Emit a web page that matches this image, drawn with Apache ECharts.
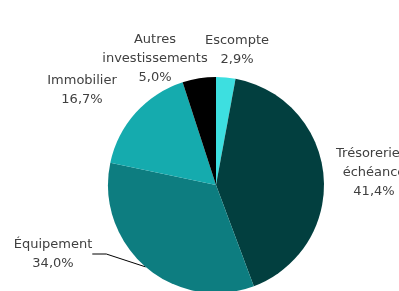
<!DOCTYPE html>
<html>
<head>
<meta charset="utf-8">
<script src="https://cdn.jsdelivr.net/npm/echarts@6/dist/echarts.min.js"></script>
<style>
  html, body { margin: 0; padding: 0; background: #fff; }
  #chart { width: 399px; height: 291px; }
</style>
</head>
<body>
<div id="chart"></div>
<script>
// données (en % du total)
const categories = ['Escompte', 'Trésorerie à\néchéance', 'Équipement', 'Immobilier', 'Autres\ninvestissements']
const values = [2.9, 41.4, 34.0, 16.7, 5.0]
const colors = ['#3ddfe0', '#023f3f', '#0d7d80', '#15abae', '#000000']

// position des étiquettes (centre du bloc de texte)
const labelPos = [[237, 50], [374, 173], [53, 254], [82, 90], [155, 59]]

const fmt = v => v.toFixed(1).replace('.', ',') + '%'

const chart = echarts.init(document.getElementById('chart'))
chart.setOption({
  animation: false,
  title: {
    text: '(en % du total des crédits, fin 2023)',
    left: 'center',
    top: -18,
    textStyle: { fontSize: 13, fontWeight: 'normal', color: '#b5b5b5', fontFamily: 'DejaVu Sans' }
  },
  series: [
    {
      type: 'pie',
      center: [216, 185],
      radius: 108,
      startAngle: 90,
      clockwise: true,
      avoidLabelOverlap: false,
      itemStyle: { borderWidth: 0 },
      label: {
        show: true,
        position: 'outside',
        color: '#404040',
        fontSize: 13,
        lineHeight: 19,
        fontFamily: 'DejaVu Sans',
        align: 'center',
        formatter: p => p.name + '\n' + fmt(p.value)
      },
      labelLine: { show: false },
      labelLayout: params => {
        const p = labelPos[params.dataIndex]
        return { x: p[0], y: p[1], align: 'center', verticalAlign: 'middle' }
      },
      data: categories.map((c, i) => ({
        name: c,
        value: values[i],
        itemStyle: { color: colors[i] },
        labelLine: i === 2
          ? { show: true, length: 10, length2: 14, lineStyle: { color: '#000', width: 1 } }
          : { show: false }
      }))
    }
  ]
})
</script>
</body>
</html>
